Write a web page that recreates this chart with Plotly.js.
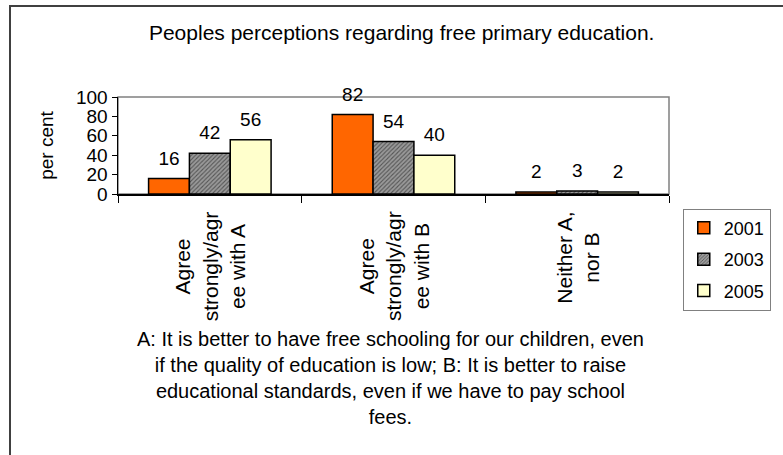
<!DOCTYPE html>
<html>
<head>
<meta charset="utf-8">
<script src="https://cdn.plot.ly/plotly-3.0.1.min.js"></script>
<style>
html,body{margin:0;padding:0;background:#fff;}
#wrap{position:relative;width:783px;height:455px;overflow:hidden;}
#chart{position:absolute;left:0;top:0;width:783px;height:455px;}
#frame{position:absolute;left:9px;top:5px;width:900px;height:600px;border-left:2px solid #404040;border-top:2px solid #404040;pointer-events:none;}
</style>
</head>
<body>
<div id="wrap"><div id="chart"></div><div id="frame"></div></div>
<script>
// ---- data ----
var categories = ["Agree<br>strongly/agr<br>ee with A", "Agree<br>strongly/agr<br>ee with B", "Neither A,<br>nor B"];
var years = ["2001", "2003", "2005"];
var v2001 = [16, 82, 2];
var v2003 = [42, 54, 3];
var v2005 = [56, 40, 2];
var yTicks = [0, 20, 40, 60, 80, 100];
var titleText = "Peoples perceptions regarding free primary education.";
var yTitle = "per cent";
var footLines = [
  "A: It is better to have free schooling for our children, even",
  "if the quality of education is low; B: It is better to raise",
  "educational standards, even if we have to pay school",
  "fees."
];

var FONT = "Liberation Sans, Arial, Helvetica, sans-serif";
var series = [v2001, v2003, v2005];
var fills = ["#FF6600", "#969696", "#FFFFCC"];

var traces = [];
series.forEach(function(vals, i){
  var m = {color: fills[i], line: {color: "#000", width: 1.5}};
  if (i === 1) {
    m.pattern = {shape: "/", fgcolor: "#555555", bgcolor: "#9a9a9a", size: 3, solidity: 0.35};
  }
  traces.push({
    type: "bar", x: categories, y: vals, name: years[i],
    marker: m, offsetgroup: "g" + i, legendgroup: "lg" + i,
    hoverinfo: "skip"
  });
});
series.forEach(function(vals, i){
  traces.push({
    type: "scatter", mode: "markers+text", x: categories, y: vals,
    text: vals.map(String), textposition: "top center",
    textfont: {family: FONT, size: 19, color: "#000"},
    marker: {size: 13, color: "rgba(0,0,0,0)"},
    offsetgroup: "g" + i, showlegend: false, cliponaxis: false,
    hoverinfo: "skip"
  });
});

var annotations = [{
  xref: "paper", yref: "paper", x: 0.495, y: -1.897,
  xanchor: "center", yanchor: "middle", align: "center",
  text: footLines.join("<br>"), showarrow: false,
  font: {family: FONT, size: 20, color: "#000"}
}];
categories.forEach(function(c){
  annotations.push({
    xref: "x", yref: "paper", x: c, y: -0.16,
    xanchor: "center", yanchor: "top", align: "center",
    text: c, textangle: -90, showarrow: false,
    font: {family: FONT, size: 21, color: "#000"}
  });
});

var layout = {
  width: 783, height: 455,
  margin: {l: 118, r: 97, t: 97, b: 261},
  paper_bgcolor: "#fff", plot_bgcolor: "#fff",
  font: {family: FONT, color: "#000"},
  barmode: "group", bargap: 0.333, bargroupgap: 0,
  scattermode: "group", scattergap: 0.333,
  showlegend: true,
  title: {text: titleText, font: {family: FONT, size: 21, color: "#000"},
          xref: "container", yref: "container", x: 0.513, xanchor: "center",
          y: 1 - 33/455, yanchor: "middle"},
  xaxis: {type: "category", showticklabels: false, ticks: "outside", ticklen: 7,
          tickson: "boundaries", tickcolor: "#000", tickwidth: 1,
          showline: true, linecolor: "#000", linewidth: 1.5, showgrid: false,
          zeroline: false, fixedrange: true},
  yaxis: {range: [0, 100], tickvals: yTicks, ticktext: yTicks.map(String),
          ticks: "outside", ticklen: 5, tickcolor: "#000", tickwidth: 1,
          tickfont: {family: FONT, size: 19, color: "#000"},
          showline: true, linecolor: "#000", linewidth: 1.5, showgrid: false,
          zeroline: false, fixedrange: true,
          title: {text: yTitle, font: {family: FONT, size: 19, color: "#000"}, standoff: 17}},
  legend: {x: 1.025, xanchor: "left", y: -0.15, yanchor: "top",
           bordercolor: "#808080", borderwidth: 1, bgcolor: "#fff",
           font: {family: FONT, size: 18, color: "#000"},
           traceorder: "grouped", tracegroupgap: 5},
  shapes: [{type: "rect", xref: "paper", yref: "paper", x0: 0, x1: 1, y0: 0, y1: 1,
            line: {color: "#808080", width: 1.5}, layer: "below"}],
  annotations: annotations
};

Plotly.newPlot("chart", traces, layout, {staticPlot: true, displayModeBar: false});
</script>
</body>
</html>
